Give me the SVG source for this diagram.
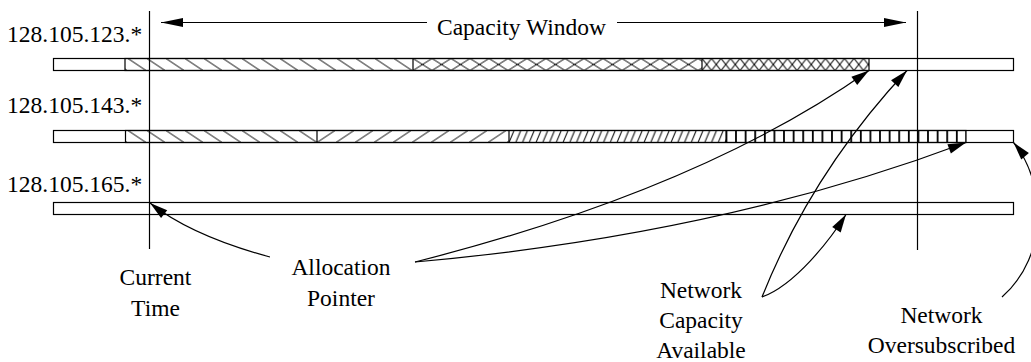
<svg xmlns="http://www.w3.org/2000/svg" width="1031" height="362" viewBox="0 0 1031 362">
  <style>
    .lbl { font-family: "Liberation Serif", "Times New Roman", serif; font-size: 23.5px; fill: #000; }
    .mid { text-anchor: middle; }
    .bar { fill: #fff; stroke: #000; stroke-width: 1.2; }
    .seg { stroke: #000; stroke-width: 1.2; }
    .hl { stroke: #000; stroke-width: 1; fill: none; }
    .rule { stroke: #000; stroke-width: 1.2; fill: none; }
    .conn { stroke: #000; stroke-width: 1.2; fill: none; marker-end: url(#head); }
  </style>
  <defs>
    <!-- diagonal hatches, tile height equals the bar height -->
    <pattern id="hatchBack" patternUnits="userSpaceOnUse" x="128" y="58.5" width="19" height="12">
      <path class="hl" d="M0,0 L18,12 M-19,0 L-1,12 M19,0 L37,12"/>
    </pattern>
    <pattern id="hatchFwd" patternUnits="userSpaceOnUse" x="317" y="58.5" width="19" height="12">
      <path class="hl" d="M0,12 L18,0 M-19,12 L-1,0 M19,12 L37,0"/>
    </pattern>
    <pattern id="hatchDense" patternUnits="userSpaceOnUse" x="509" y="58.5" width="6.75" height="12">
      <path class="hl" d="M0,12 L5,0 M-6.75,12 L-1.75,0 M6.75,12 L11.75,0"/>
    </pattern>
    <pattern id="crossCoarse" patternUnits="userSpaceOnUse" x="413" y="58.5" width="19" height="12">
      <path class="hl" d="M0,0 L19,12 M0,12 L19,0"/>
    </pattern>
    <pattern id="crossFine" patternUnits="userSpaceOnUse" x="702" y="58.5" width="9.5" height="12">
      <path class="hl" d="M0,0 L9.5,12 M0,12 L9.5,0"/>
    </pattern>
    <pattern id="ticks" patternUnits="userSpaceOnUse" x="725.5" y="58.5" width="9.6" height="12">
      <rect x="0" y="0" width="1.8" height="12" fill="#000"/>
    </pattern>
    <marker id="head" viewBox="-19 -6 20 12" refX="0" refY="0" markerWidth="20" markerHeight="12" markerUnits="userSpaceOnUse" orient="auto">
      <path d="M0,0 L-18,-5 L-18,5 Z" fill="#000"/>
    </marker>
    <marker id="span" viewBox="-23 -6 24 12" refX="0" refY="0" markerWidth="24" markerHeight="12" markerUnits="userSpaceOnUse" orient="auto">
      <path d="M0,0 L-22,-4.5 L-22,4.5 Z" fill="#000"/>
    </marker>
  </defs>

  <!-- capacity window span -->
  <g id="capacity-window">
    <path class="rule" d="M427,22.5 L161,22.5" marker-end="url(#span)"/>
    <path class="rule" d="M617,22.5 L906,22.5" marker-end="url(#span)"/>
    <text class="lbl" x="437" y="35">Capacity Window</text>
  </g>

  <!-- row 128.105.123.* -->
  <g id="row-123">
    <text class="lbl" x="7" y="42">128.105.123.*</text>
    <rect class="bar" x="53.5" y="58.5" width="960" height="12"/>
    <rect x="125" y="58.5" width="288" height="12" fill="url(#hatchBack)"/>
    <rect x="413" y="58.5" width="289" height="12" fill="url(#crossCoarse)"/>
    <rect x="702" y="58.5" width="167" height="12" fill="url(#crossFine)"/>
    <rect x="125" y="58.5" width="744" height="12" fill="none" stroke="#000" stroke-width="1.2"/>
    <path class="seg" d="M413,58.5 V70.5 M702,58.5 V70.5"/>
  </g>

  <!-- row 128.105.143.* -->
  <g id="row-143">
    <text class="lbl" x="7" y="113">128.105.143.*</text>
    <rect class="bar" x="53.5" y="130.5" width="960" height="12"/>
    <rect x="125.5" y="130.5" width="191.5" height="12" fill="url(#hatchBack)"/>
    <rect x="317" y="130.5" width="192" height="12" fill="url(#hatchFwd)"/>
    <rect x="509" y="130.5" width="217" height="12" fill="url(#hatchDense)"/>
    <rect x="726" y="130.5" width="240" height="12" fill="url(#ticks)"/>
    <rect x="125.5" y="130.5" width="840.5" height="12" fill="none" stroke="#000" stroke-width="1.2"/>
    <path class="seg" d="M317,130.5 V142.5 M509,130.5 V142.5 M726,130.5 V142.5"/>
  </g>

  <!-- row 128.105.165.* -->
  <g id="row-165">
    <text class="lbl" x="7" y="192">128.105.165.*</text>
    <rect class="bar" x="53.5" y="202.5" width="960" height="12"/>
  </g>

  <!-- time markers -->
  <g id="current-time">
    <path class="rule" d="M149.5,11 V249"/>
    <text class="lbl mid" x="155.5" y="285">Current</text>
    <text class="lbl mid" x="155.5" y="316">Time</text>
  </g>
  <g id="window-end">
    <path class="rule" d="M917.5,11 V250"/>
  </g>

  <g id="allocation-pointer">
    <text class="lbl mid" x="341" y="275">Allocation</text>
    <text class="lbl mid" x="341" y="306">Pointer</text>
  </g>

  <g id="network-capacity">
    <text class="lbl mid" x="701" y="298">Network</text>
    <text class="lbl mid" x="701" y="328">Capacity</text>
    <text class="lbl mid" x="701" y="358">Available</text>
  </g>

  <g id="network-oversubscribed">
    <text class="lbl mid" x="941.5" y="323">Network</text>
    <text class="lbl mid" x="941.5" y="353">Oversubscribed</text>
  </g>

  <!-- connectors -->
  <g id="connectors">
    <path class="conn" d="M270,257 Q192,236 150,203"/>
    <path class="conn" d="M415,262 Q700,190 869,70.5"/>
    <path class="conn" d="M415,262 Q720,235 966,142.5"/>
    <path class="conn" d="M762,297 Q812,172 907,70.5"/>
    <path class="conn" d="M762,297 C795,285 830,240 846,214.5"/>
    <path class="conn" d="M1002,297 C1050,255 1045,180 1013.5,142.5"/>
  </g>
</svg>
